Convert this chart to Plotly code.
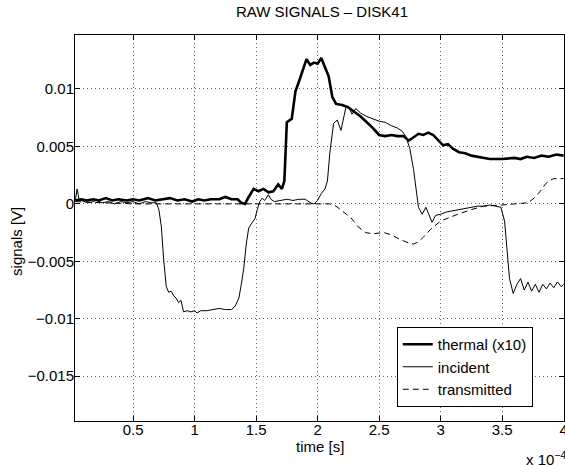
import plotly.graph_objects as go

# time axis in units of 1e-4 s
t_thermal = [0.03, 0.08, 0.12, 0.18, 0.22, 0.28, 0.33, 0.38, 0.45, 0.5, 0.55, 0.62, 0.68, 0.74,
             0.8, 0.86, 0.92, 0.98, 1.03, 1.08, 1.13, 1.2, 1.25, 1.3, 1.35, 1.38, 1.41, 1.44,
             1.48, 1.52, 1.56, 1.6, 1.64, 1.68, 1.71, 1.73, 1.75, 1.79, 1.82, 1.85, 1.88, 1.91,
             1.94, 1.97, 2.0, 2.03, 2.06, 2.09, 2.12, 2.15, 2.2, 2.25, 2.3, 2.35, 2.4, 2.45,
             2.5, 2.55, 2.6, 2.65, 2.7, 2.74, 2.78, 2.82, 2.86, 2.9, 2.94, 2.98, 3.02, 3.06,
             3.1, 3.15, 3.2, 3.25, 3.3, 3.35, 3.4, 3.5, 3.6, 3.65, 3.7, 3.76, 3.82, 3.88,
             3.94, 4.0]
thermal = [0.0003, 0.0004, 0.0003, 0.0004, 0.0003, 0.0005, 0.0003, 0.0004, 0.0003, 0.0004,
           0.0003, 0.0005, 0.0003, 0.0004, 0.0005, 0.0003, 0.0004, 0.0002, 0.0004, 0.0003,
           0.0004, 0.0004, 0.0006, 0.0004, 0.0004, 0.0001, 0.0, 0.0006, 0.0013, 0.0011,
           0.0013, 0.0010, 0.0011, 0.0017, 0.0013, 0.0020, 0.0071, 0.0074, 0.0098, 0.0107,
           0.0116, 0.0126, 0.0121, 0.0123, 0.0122, 0.0127, 0.0119, 0.0111, 0.0093, 0.0087,
           0.0086, 0.0084, 0.0080, 0.0076, 0.0071, 0.0066, 0.0060, 0.0059, 0.0060, 0.0059,
           0.0059, 0.0055, 0.0058, 0.0061, 0.0060, 0.0062, 0.0060, 0.0055, 0.0051, 0.0052,
           0.0048, 0.0045, 0.0044, 0.0042, 0.0041, 0.0040, 0.0039, 0.0039, 0.0040, 0.0039,
           0.0041, 0.0040, 0.0042, 0.0041, 0.0043, 0.0042]

t_incident = [0.03, 0.045, 0.06, 0.1, 0.15, 0.2, 0.25, 0.3, 0.35, 0.4, 0.45, 0.5, 0.55, 0.6,
              0.65, 0.69, 0.71, 0.73, 0.75, 0.77, 0.79, 0.81, 0.83, 0.85, 0.87, 0.89, 0.91,
              0.94, 0.97, 1.0, 1.02, 1.05, 1.1, 1.15, 1.2, 1.25, 1.3, 1.33, 1.36, 1.38, 1.4,
              1.42, 1.44, 1.47, 1.49, 1.51, 1.53, 1.55, 1.57, 1.6, 1.62, 1.65, 1.7, 1.75, 1.8,
              1.85, 1.9, 1.94, 1.97, 2.0, 2.03, 2.06, 2.08, 2.1, 2.13, 2.16, 2.19, 2.21, 2.23,
              2.25, 2.28, 2.31, 2.35, 2.4, 2.45, 2.5, 2.55, 2.6, 2.65, 2.69, 2.72, 2.75, 2.78,
              2.8, 2.82, 2.85, 2.88, 2.9, 2.93, 2.96, 3.0, 3.05, 3.1, 3.15, 3.2, 3.25, 3.3,
              3.35, 3.4, 3.45, 3.49, 3.52, 3.54, 3.56, 3.59, 3.62, 3.65, 3.68, 3.71, 3.74,
              3.77, 3.8, 3.83, 3.86, 3.89, 3.92, 3.95, 3.98, 4.0]
incident = [0.0003, 0.0013, 0.0004, 0.0002, 0.0001, 0.0003, 0.0001, 0.0002, 0.0, 0.0002,
            0.0001, 0.0002, 0.0, 0.0002, 0.0001, 0.0001, -0.0005, -0.0020, -0.0050, -0.0072,
            -0.0077, -0.0076, -0.0080, -0.0082, -0.0086, -0.0084, -0.0094, -0.0093, -0.0094,
            -0.0093, -0.0095, -0.0093, -0.0093, -0.0092, -0.0091, -0.0092, -0.0092, -0.0089,
            -0.0082, -0.0070, -0.0056, -0.0035, -0.0021, -0.0016, -0.0013, -0.0005, 0.0002,
            0.0005, 0.0003, 0.0008, 0.0004, 0.0002, 0.0003, 0.0004, 0.0003, 0.0004, 0.0004,
            0.0001, 0.0, 0.0003, 0.0009, 0.0013, 0.0020, 0.0045, 0.0070, 0.0073, 0.0064,
            0.0075, 0.0084, 0.0085, 0.0078, 0.0083, 0.0079, 0.0076, 0.0074, 0.0072, 0.0071,
            0.0068, 0.0066, 0.0063, 0.0058, 0.0048, 0.0030, 0.0015, -0.0003, -0.0009, -0.0003,
            -0.0008, -0.0016, -0.0010, -0.0009, -0.0007, -0.0006, -0.0005, -0.0004, -0.0003,
            -0.0002, -0.0002, -0.0001, -0.0002, -0.0003, -0.0015, -0.0041, -0.0065, -0.0078,
            -0.0070, -0.0065, -0.0075, -0.0068, -0.0076, -0.0070, -0.0077, -0.0070, -0.0074,
            -0.0069, -0.0073, -0.0068, -0.0072, -0.0070]

t_transmitted = [0.03, 0.5, 1.0, 1.5, 2.0, 2.1, 2.15, 2.2, 2.27, 2.33, 2.39, 2.45, 2.54, 2.6,
                 2.67, 2.74, 2.78, 2.82, 2.86, 2.92, 3.0, 3.07, 3.14, 3.25, 3.35, 3.5, 3.62,
                 3.71, 3.76, 3.81, 3.85, 3.88, 3.92, 4.0]
transmitted = [0.0002, 0.0, 0.0, 0.0, 0.0, 0.0, -0.0002, -0.0006, -0.0012, -0.0020, -0.0025,
               -0.0026, -0.0025, -0.0027, -0.0031, -0.0034, -0.0035, -0.0033, -0.0029, -0.0022,
               -0.0015, -0.0012, -0.0009, -0.0005, -0.0002, -0.0001, 0.0, 0.0001, 0.0005,
               0.0011, 0.0017, 0.0020, 0.0022, 0.0022]

x_ticks = [0.5, 1, 1.5, 2, 2.5, 3, 3.5, 4]
y_ticks = [0.01, 0.005, 0, -0.005, -0.01, -0.015]

fig = go.Figure()
fig.add_trace(go.Scatter(x=t_thermal, y=thermal, mode="lines", name="thermal (x10)",
                         line=dict(color="black", width=2.6)))
fig.add_trace(go.Scatter(x=t_incident, y=incident, mode="lines", name="incident",
                         line=dict(color="black", width=1)))
fig.add_trace(go.Scatter(x=t_transmitted, y=transmitted, mode="lines", name="transmitted",
                         line=dict(color="black", width=1, dash="6px,4px")))

axis_style = dict(showline=True, linecolor="black", linewidth=1, mirror="ticks",
                  ticks="inside", ticklen=5, tickcolor="black", automargin=False,
                  ticklabeloverflow="allow",
                  showgrid=True, gridcolor="#666666", griddash="1px,3px", gridwidth=1,
                  zeroline=False, tickfont=dict(size=15, color="black"))

fig.update_xaxes(range=[0.028, 4.003], tickvals=x_ticks, ticklabelstandoff=-5, **axis_style)
fig.update_yaxes(range=[-0.0189, 0.0147], tickvals=y_ticks, ticklabelstandoff=-3, **axis_style)

txt = dict(xref="paper", yref="paper", showarrow=False, font=dict(size=15, color="black"))
fig.add_annotation(text="RAW SIGNALS – DISK41", x=0.505, y=1.0596,
                   xanchor="center", yanchor="middle", **txt)
fig.add_annotation(text="time [s]", x=0.5, y=-0.065, xanchor="center", yanchor="middle", **txt)
fig.add_annotation(text="signals [V]", x=-0.121, y=0.466, textangle=-90,
                   xanchor="center", yanchor="middle", **txt)
fig.add_annotation(text="x 10<sup>−4</sup>", x=0.918, y=-0.096,
                   xanchor="left", yanchor="middle", **txt)

fig.update_layout(
    width=565, height=465,
    margin=dict(l=75, r=1, t=35, b=44),
    font=dict(family="Liberation Sans, Arial, sans-serif", color="black", size=15),
    paper_bgcolor="white", plot_bgcolor="white",
    showlegend=True,
    legend=dict(x=0.658, y=0.2435, xanchor="left", yanchor="top",
                bgcolor="white", bordercolor="black", borderwidth=1,
                font=dict(size=15), tracegroupgap=0),
)

# remove the page margin so the figure sits at the window's corner
fig.write_html("out.html", config={"displayModeBar": False},
               post_script="document.body.style.margin='0';")
